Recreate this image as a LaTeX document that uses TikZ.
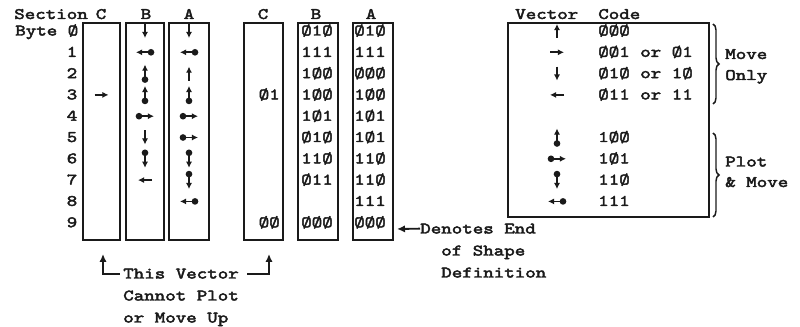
\documentclass[tikz,border=0pt]{standalone}
\usepackage{fontspec}
\newfontfamily\twf[FakeStretch=1.25,FakeBold=2.8]{lmmono10-regular.otf}
\usetikzlibrary{arrows.meta,decorations.pathreplacing,fit}
\definecolor{ink}{HTML}{1A1A1A}
\begin{document}
\begin{tikzpicture}[x=0.75pt,y=-0.75pt,
  every node/.style={font=\twf\fontsize{12}{14}\selectfont, inner sep=0pt, text=ink},
  txt/.style={anchor=base west},
  ctxt/.style={anchor=base},
  rtxt/.style={anchor=base east},
  box/.style={draw=ink, line width=1.1pt, inner sep=0pt},
  vec/.style={draw=ink, line width=1.3pt, -{Latex[length=4.6pt,width=4.6pt]}},
  conn/.style={draw=ink, line width=1.4pt, -{Latex[length=6pt,width=5.5pt]}},
  brc/.style={draw=ink, line width=1.1pt, decorate, decoration={brace, amplitude=4.5pt}},
  mU/.pic={\draw[vec] (0,7) -- (0,-7);},
  mD/.pic={\draw[vec] (0,-7) -- (0,7);},
  mR/.pic={\draw[vec] (-7,0) -- (7,0);},
  mL/.pic={\draw[vec] (7,0) -- (-7,0);},
  pU/.pic={\fill[ink] (0,6) circle (2.5pt); \draw[vec] (0,6) -- (0,-9);},
  pD/.pic={\fill[ink] (0,-6) circle (2.5pt); \draw[vec] (0,-6) -- (0,9);},
  pR/.pic={\fill[ink] (-6,0) circle (2.5pt); \draw[vec] (-6,0) -- (9,0);},
  pL/.pic={\fill[ink] (6,0) circle (2.5pt); \draw[vec] (6,0) -- (-9,0);}
]
\useasboundingbox (0,0) rectangle (800,327);

% headers
\node[txt] (sec) at (14,19) {Section};
\node[ctxt] (hC1) at (101,19) {C};
\node[ctxt] (hB1) at (146,19) {B};
\node[ctxt] (hA1) at (189,19) {A};
\node[ctxt] (hC2) at (263,19) {C};
\node[ctxt] (hB2) at (316,19) {B};
\node[ctxt] (hA2) at (371,19) {A};
\node[txt] (byte) at (15,35.5) {Byte Ø};
\node[ctxt] (d1) at (72,56.8) {1};
\node[ctxt] (d2) at (72,78.1) {2};
\node[ctxt] (d3) at (72,99.4) {3};
\node[ctxt] (d4) at (72,120.7) {4};
\node[ctxt] (d5) at (72,142.0) {5};
\node[ctxt] (d6) at (72,163.3) {6};
\node[ctxt] (d7) at (72,184.6) {7};
\node[ctxt] (d8) at (72,205.9) {8};
\node[ctxt] (d9) at (72,227.2) {9};

% boxes
\node[box, fit={(83,23) (120,240)}] (C1) {};
\node[box, fit={(126,23) (164,240)}] (B1) {};
\node[box, fit={(169,23) (209,240)}] (A1) {};
\node[box, fit={(244,23) (283,240)}] (C2) {};
\node[box, fit={(298,23) (338,240)}] (B2) {};
\node[box, fit={(353,23) (393,240)}] (A2) {};

% vectors, section C
\pic at (101.5,94.9) {mR};
% section B
\pic at (145,31) {mD};
\pic at (145,52.3) {pL};
\pic at (145,73.6) {pU};
\pic at (145,94.9) {pU};
\pic at (145,116.2) {pR};
\pic at (145,137.5) {mD};
\pic at (145,158.8) {pD};
\pic at (145,180.1) {mL};
% section A
\pic at (189,31) {mD};
\pic at (189,52.3) {pL};
\pic at (189,73.6) {mU};
\pic at (189,94.9) {pU};
\pic at (189,116.2) {pR};
\pic at (189,137.5) {pR};
\pic at (189,158.8) {pD};
\pic at (189,180.1) {pD};
\pic at (189,201.4) {pL};

% codes, section C
\node[rtxt] (cc3) at (280,99.4) {Ø1};
\node[rtxt] (cc9) at (280,227.2) {ØØ};
% codes, section B
\node[ctxt] (cb0) at (317,35.5) {Ø1Ø};
\node[ctxt] (cb1) at (317,56.8) {111};
\node[ctxt] (cb2) at (317,78.1) {1ØØ};
\node[ctxt] (cb3) at (317,99.4) {1ØØ};
\node[ctxt] (cb4) at (317,120.7) {1Ø1};
\node[ctxt] (cb5) at (317,142.0) {Ø1Ø};
\node[ctxt] (cb6) at (317,163.3) {11Ø};
\node[ctxt] (cb7) at (317,184.6) {Ø11};
\node[ctxt] (cb9) at (317,227.2) {ØØØ};
% codes, section A
\node[ctxt] (ca0) at (370,35.5) {Ø1Ø};
\node[ctxt] (ca1) at (370,56.8) {111};
\node[ctxt] (ca2) at (370,78.1) {ØØØ};
\node[ctxt] (ca3) at (370,99.4) {1ØØ};
\node[ctxt] (ca4) at (370,120.7) {1Ø1};
\node[ctxt] (ca5) at (370,142.0) {1Ø1};
\node[ctxt] (ca6) at (370,163.3) {11Ø};
\node[ctxt] (ca7) at (370,184.6) {11Ø};
\node[ctxt] (ca8) at (370,205.9) {111};
\node[ctxt] (ca9) at (370,227.2) {ØØØ};

% end-of-shape note
\node[txt] (den1) at (420,233.5) {Denotes End};
\node[txt] (den2) at (441,255.5) {of Shape};
\node[txt] (den3) at (441,277.5) {Definition};
\coordinate (denTip) at (397,229);
\draw[conn] (den1.west) -- (denTip);

% "this vector" note
\node[txt] (tv1) at (123,278.5) {This Vector};
\node[txt] (tv2) at (123,300.5) {Cannot Plot};
\node[txt] (tv3) at (123,322.5) {or Move Up};
\coordinate (up1) at (103,254);
\coordinate (up2) at (269,254);
\draw[conn] ([xshift=-2.5pt]tv1.west) -| (up1);
\draw[conn] ([xshift=6pt]tv1.east) -| (up2);

% code table
\node[txt] (hvec) at (515,19) {Vector};
\node[txt] (hcode) at (598,19) {Code};
\node[box, fit={(508,23) (709,217)}] (tab) {};
\pic at (557,31) {mU};
\pic at (557,52.3) {mR};
\pic at (557,73.6) {mD};
\pic at (557,94.9) {mL};
\pic at (557,137.5) {pU};
\pic at (557,158.8) {pR};
\pic at (557,180.1) {pD};
\pic at (557,201.4) {pL};
\node[txt] (k0) at (598,35.5) {ØØØ};
\node[txt] (k1) at (598,56.8) {ØØ1 or Ø1};
\node[txt] (k2) at (598,78.1) {Ø1Ø or 1Ø};
\node[txt] (k3) at (598,99.4) {Ø11 or 11};
\node[txt] (k5) at (598,142.0) {1ØØ};
\node[txt] (k6) at (598,163.3) {1Ø1};
\node[txt] (k7) at (598,184.6) {11Ø};
\node[txt] (k8) at (598,205.9) {111};

% braces
\draw[brc] (713,24) -- (713,104);
\node[txt] (mo1) at (725,59) {Move};
\node[txt] (mo2) at (725,80) {Only};
\draw[brc] (713,133) -- (713,217);
\node[txt] (pm1) at (725,166.5) {Plot};
\node[txt] (pm2) at (725,187) {\& Move};
\end{tikzpicture}
\end{document}
